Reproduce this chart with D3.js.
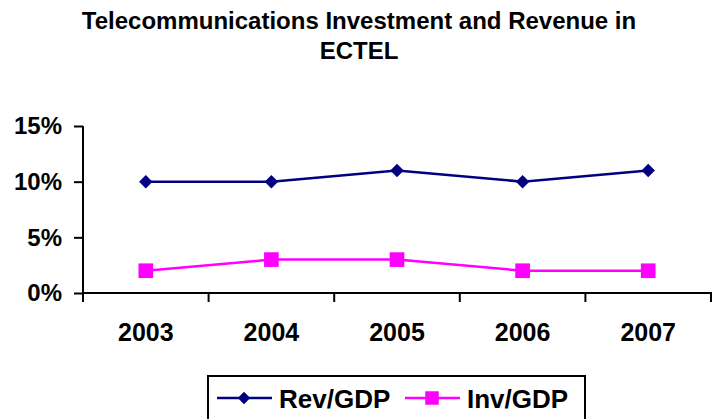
<!DOCTYPE html>
<html>
<head>
<meta charset="utf-8">
<script src="https://cdn.jsdelivr.net/npm/d3@7"></script>
<style>
  body { margin: 0; background: #fff; }
  text { font-family: Arial, "Liberation Sans", sans-serif; font-weight: bold; }
</style>
</head>
<body>
<div id="chart"></div>
<script>
// chart data
const years = ["2003", "2004", "2005", "2006", "2007"];
const revGdp = [0.10, 0.10, 0.11, 0.10, 0.11];
const invGdp = [0.02, 0.03, 0.03, 0.02, 0.02];
const yTicks = [0, 0.05, 0.10, 0.15];
const titleLines = ["Telecommunications Investment and Revenue in", "ECTEL"];

const width = 713, height = 419;
const svg = d3.select("#chart").append("svg")
    .attr("width", width)
    .attr("height", height);

const x = d3.scaleBand().domain(years).range([83, 711]);
const y = d3.scaleLinear().domain([0, 0.15]).range([293, 126]);

// title
svg.selectAll(".title").data(titleLines).join("text")
    .attr("class", "title")
    .attr("x", 359)
    .attr("y", (d, i) => 29 + i * 30)
    .attr("text-anchor", "middle")
    .style("font-size", "24px")
    .text(d => d);

// y axis
const yAxis = svg.append("g")
    .attr("transform", "translate(83,0)")
    .call(d3.axisLeft(y).tickValues(yTicks).tickFormat(d3.format(".0%")).tickSize(9).tickPadding(12));
yAxis.selectAll("text").style("font-size", "24px").attr("fill", "#000");
yAxis.select(".domain").attr("stroke-width", 2).attr("d", "M0,126V302");
yAxis.selectAll(".tick line").attr("stroke-width", 2);

// x axis, ticks between categories
const xAxis = svg.append("g").attr("transform", "translate(0,293)");
xAxis.append("line")
    .attr("x1", 83).attr("x2", 712)
    .attr("stroke", "#000").attr("stroke-width", 2);
const bounds = years.map(d => x(d)).concat([x.range()[1]]);
xAxis.selectAll(".tk").data(bounds).join("line")
    .attr("class", "tk")
    .attr("x1", d => d).attr("x2", d => d)
    .attr("y1", 0).attr("y2", 9)
    .attr("stroke", "#000").attr("stroke-width", 2);
xAxis.selectAll(".lbl").data(years).join("text")
    .attr("class", "lbl")
    .attr("x", d => x(d) + x.bandwidth() / 2)
    .attr("y", 48)
    .attr("text-anchor", "middle")
    .style("font-size", "25px")
    .text(d => d);

const cx = d => x(d) + x.bandwidth() / 2;
const line = d3.line().x((d, i) => cx(years[i])).y(d => y(d));

const series = [
    { name: "Rev/GDP", values: revGdp, color: "#000080", shape: d3.symbolDiamond2, size: 115 },
    { name: "Inv/GDP", values: invGdp, color: "#FF00FF", shape: d3.symbolSquare, size: 215 }
];

series.forEach(s => {
    svg.append("path")
        .datum(s.values)
        .attr("fill", "none")
        .attr("stroke", s.color)
        .attr("stroke-width", 2.5)
        .attr("d", line);
    svg.selectAll(null).data(s.values).join("path")
        .attr("transform", (d, i) => `translate(${cx(years[i])},${y(d)})`)
        .attr("d", d3.symbol().type(s.shape).size(s.size))
        .attr("fill", s.color);
});

// legend
const legend = svg.append("g");
legend.append("rect")
    .attr("x", 208).attr("y", 376)
    .attr("width", 377).attr("height", 60)
    .attr("fill", "none").attr("stroke", "#000").attr("stroke-width", 2);
const legX = [217, 405];
series.forEach((s, i) => {
    const g = legend.append("g").attr("transform", `translate(${legX[i]},398)`);
    g.append("line").attr("x1", 0).attr("x2", 55)
        .attr("stroke", s.color).attr("stroke-width", 2.5);
    g.append("path").attr("transform", "translate(27,0)")
        .attr("d", d3.symbol().type(s.shape).size(s.size * 0.85))
        .attr("fill", s.color);
    g.append("text").attr("x", 62).attr("y", 10)
        .style("font-size", "26px")
        .text(s.name);
});
</script>
</body>
</html>
